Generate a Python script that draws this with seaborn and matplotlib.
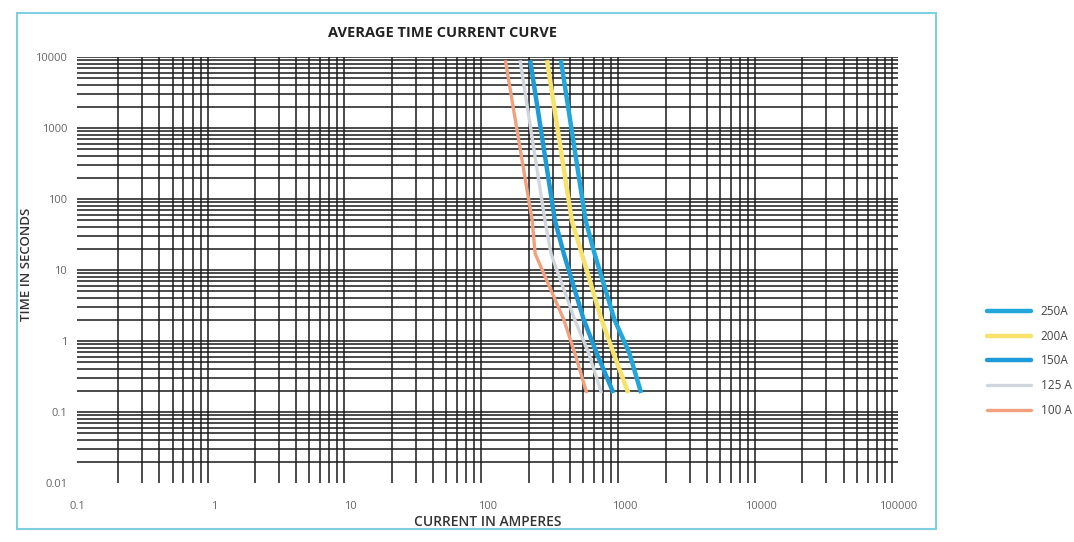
# average time current curve for the fuse ratings

import matplotlib
matplotlib.use("Agg")
import matplotlib.pyplot as plt
from matplotlib.patches import Rectangle
import numpy as np
import pandas as pd
import seaborn as sns

time_s = [9000, 50, 17, 2, 0.68, 0.185]
amps_100 = [135, 212, 223, 361, 434, 531]
amps_125 = [173, 263, 291, 434, 548, 681]
amps_150 = [205, 311, 361, 505, 627, 832]
amps_200 = [272, 413, 488, 681, 832, 1069]
amps_250 = [344, 521, 606, 847, 1087, 1327]

ratings = ["250A", "200A", "150A", "125 A", "100 A"]
colors = ["#22A6DC", "#F7E36C", "#1E9BD7", "#CFD6DE", "#F2A07E"]
widths = [3.2, 3.2, 3.2, 2.4, 2.4]

x_ticks = [0.1, 1, 10, 100, 1000, 10000, 100000]
x_labels = ["0.1", "1", "10", "100", "1000", "10000", "100000"]
y_ticks = [0.01, 0.1, 1, 10, 100, 1000, 10000]
y_labels = ["0.01", "0.1", "1", "10", "100", "1000", "10000"]


def main():
    sns.set_style("white")
    plt.rcParams["font.family"] = ["Open Sans", "DejaVu Sans"]

    series = {"250A": amps_250, "200A": amps_200, "150A": amps_150,
              "125 A": amps_125, "100 A": amps_100}
    df = pd.concat([pd.DataFrame({"current": v, "time": time_s, "rating": k})
                    for k, v in series.items()], ignore_index=True)

    fig = plt.figure(figsize=(10.74, 5.42), dpi=100)
    ax = fig.add_axes([77 / 1074, 59 / 542, 821 / 1074, 426 / 542])
    ax.set_xscale("log")
    ax.set_yscale("log")
    ax.set_xlim(0.1, 100000)
    ax.set_ylim(0.01, 10000)

    # graph paper: no vertical decade lines, horizontal lines at every step
    vx = [m * 10.0 ** k for k in range(-1, 5) for m in range(2, 10)]
    hy = [m * 10.0 ** k for k in range(-2, 4) for m in range(1, 10)][1:] + [10000]
    ax.vlines(vx, 0.01, 10000, color="#1a1a1a", lw=1.1, zorder=1)
    ax.hlines(hy, 0.1, 100000, color="#1a1a1a", lw=1.1, zorder=1)

    sns.lineplot(data=df, x="current", y="time", hue="rating",
                 hue_order=ratings, palette=dict(zip(ratings, colors)),
                 sort=False, estimator=None, ax=ax, zorder=3)
    for line, lw in zip(ax.get_lines(), widths):
        line.set_linewidth(lw)
        line.set_solid_capstyle("butt")

    for s in ax.spines.values():
        s.set_visible(False)
    ax.set_xticks(x_ticks)
    ax.set_xticklabels(x_labels)
    ax.set_yticks(y_ticks)
    ax.set_yticklabels(y_labels)
    ax.minorticks_off()
    ax.tick_params(length=0, labelsize=8, colors="#666666")
    ax.tick_params(axis="x", pad=13)
    ax.tick_params(axis="y", pad=7)

    ax.set_xlabel("CURRENT IN AMPERES", fontsize=10, fontweight="semibold",
                  color="#333333", labelpad=2)
    ax.set_ylabel("TIME IN SECONDS", fontsize=9.5, fontweight="semibold",
                  color="#333333")
    ax.yaxis.set_label_coords(-0.054, 0.514)
    fig.text(442 / 1074, 1 - 33 / 542, "AVERAGE TIME CURRENT CURVE",
             ha="center", va="center", fontsize=10.5, fontweight="bold",
             color="#222222")

    # legend sits outside the framed chart
    handles, labels = ax.get_legend_handles_labels()
    for h, lw in zip(handles, widths):
        h.set_linewidth(lw)
    ax.legend(handles, labels, loc="center left",
              bbox_to_anchor=(976 / 1074, 1 - 361 / 542),
              bbox_transform=fig.transFigure, frameon=False, fontsize=8.5,
              handlelength=3.8, labelspacing=1.0, labelcolor="#444444")

    # light cyan frame around the chart
    fig.patches.append(Rectangle((17 / 1074, 1 - 529 / 542), 919 / 1074,
                                 516 / 542, transform=fig.transFigure,
                                 fill=False, edgecolor="#7FCFE0", lw=1.5))

    fig.savefig("out.png", dpi=100)


if __name__ == "__main__":
    main()
